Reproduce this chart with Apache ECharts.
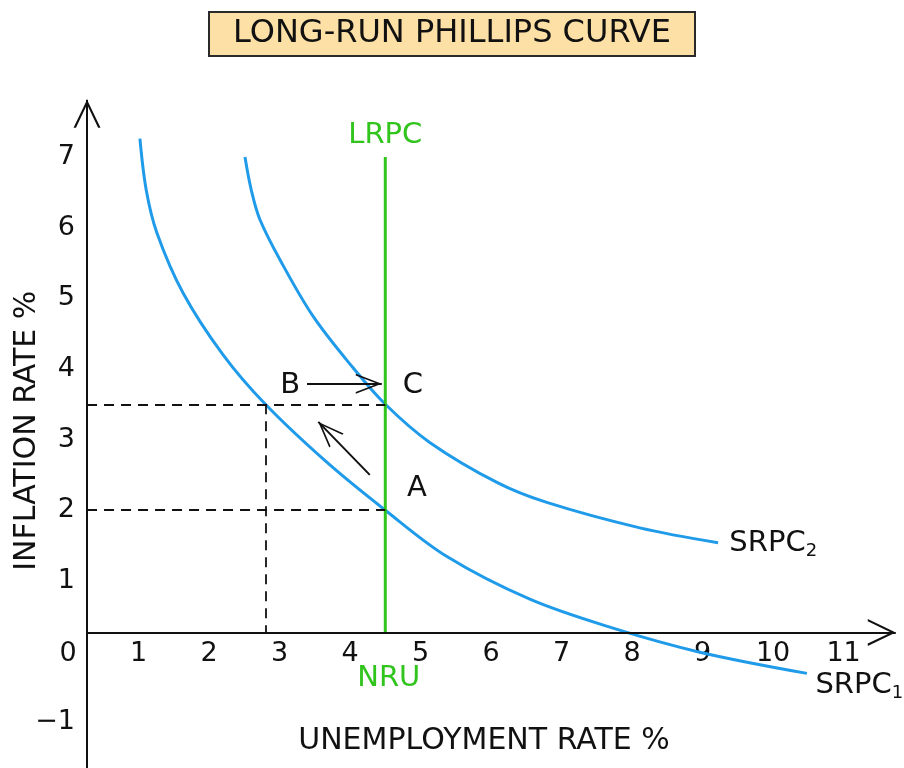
<!DOCTYPE html>
<html>
<head>
<meta charset="utf-8">
<script src="https://cdn.jsdelivr.net/npm/echarts@6/dist/echarts.min.js"></script>
<style>
html, body { margin: 0; padding: 0; background: #fff; }
#main { width: 904px; height: 768px; }
</style>
</head>
<body>
<div id="main"></div>
<script>
// tick labels
var xTicks = [0, 1, 2, 3, 4, 5, 6, 7, 8, 9, 10, 11];
var yTicks = [-1, 1, 2, 3, 4, 5, 6, 7];

// short-run phillips curves (unemployment %, inflation %)
var srpc1 = [[1.02, 7.26], [1.11, 6.53], [1.26, 5.93], [1.63, 5.08], [2.2, 4.2], [2.8, 3.5],
  [3.67, 2.68], [4.5, 2], [5.38, 1.34], [6.55, 0.74], [7.73, 0.33], [8.96, -0.01], [10.48, -0.31]];
var srpc2 = [[2.51, 7.0], [2.6, 6.53], [2.72, 6.12], [3.01, 5.54], [3.48, 4.74], [4.04, 4.02], [4.5, 3.5],
  [5.13, 2.96], [6.09, 2.39], [6.79, 2.11], [8.11, 1.75], [9.22, 1.54]];

// long-run curve and points
var nru = 4.5;
var lrpcTop = 7.0;
var pointA = [4.5, 2];
var pointB = [2.8, 3.5];
var pointC = [4.5, 3.5];
var axisAt = 0.27;       // where the hand drawn axes cross
var arrowBC = [[3.39, 3.79], [4.45, 3.79]];
var arrowAB = [[4.28, 2.5], [3.55, 3.25]];

var blue = '#1f9bea';
var green = '#30c41c';
var ink = '#111';
var font = 'DejaVu Sans';

var chevron = 'path://M0,100 L50,0 L100,100 L91,100 L50,17 L9,100 Z';

var yMin = -1.65, yMax = 7.9;
var gridTop = 93.5, gridH = 768 - gridTop;
// lift the x labels from the grid bottom up to inflation = 0
var xLabelShift = -gridH * (0 - yMin) / (yMax - yMin);

var myChart = echarts.init(document.getElementById('main'));

function seg(a, b) {
  return [{ coord: a }, { coord: b }];
}

var option = {
  animation: false,
  title: {
    text: 'LONG-RUN PHILLIPS CURVE',
    left: 'center',
    top: 12,
    backgroundColor: '#fde0a6',
    borderColor: '#2a2a2a',
    borderWidth: 2,
    padding: [6, 24, 6, 24],
    textStyle: { fontFamily: font, fontSize: 32, fontWeight: 'normal', color: ink }
  },
  grid: { left: 68, right: 4, top: gridTop, bottom: 0, outerBoundsMode: 'none', containLabel: false },
  xAxis: {
    type: 'value',
    min: 0,
    max: 11.8,
    offset: xLabelShift,
    name: 'UNEMPLOYMENT RATE %',
    nameLocation: 'middle',
    nameGap: 75,
    nameMoveOverlap: false,
    nameTextStyle: { fontFamily: font, fontSize: 30, color: ink },
    axisLine: { show: false, onZero: false },
    axisTick: { show: false },
    splitLine: { show: false },
    axisLabel: {
      customValues: xTicks,
      fontFamily: font, fontSize: 27, color: ink,
      verticalAlign: 'middle', margin: 3
    }
  },
  yAxis: {
    type: 'value',
    min: yMin,
    max: yMax,
    name: 'INFLATION RATE %',
    nameLocation: 'middle',
    nameGap: 26,
    nameMoveOverlap: false,
    nameTextStyle: { fontFamily: font, fontSize: 30, color: ink },
    axisLine: { show: false, onZero: false },
    axisTick: { show: false },
    splitLine: { show: false },
    axisLabel: {
      customValues: yTicks,
      fontFamily: font, fontSize: 27, color: ink,
      align: 'right', margin: -7,
      formatter: function (v) { return v < 0 ? '\u2212' + Math.abs(v) : v; }
    }
  },
  series: [
    {
      name: 'axes', type: 'line', data: [], silent: true,
      markLine: {
        silent: true,
        symbol: ['none', chevron],
        symbolSize: [27, 28],
        symbolOffset: [[0, 0], [0, '50%']],
        label: { show: false },
        lineStyle: { color: ink, width: 2, type: 'solid' },
        emphasis: { disabled: true },
        data: [
          seg([axisAt, yMin], [axisAt, 7.81]),
          seg([axisAt, axisAt], [11.74, axisAt])
        ]
      }
    },
    {
      name: 'guides', type: 'line', data: [], silent: true,
      markLine: {
        silent: true,
        symbol: ['none', 'none'],
        label: { show: false },
        lineStyle: { color: ink, width: 1.8, type: [10, 7] },
        emphasis: { disabled: true },
        data: [
          seg([axisAt, pointA[1]], pointA),
          seg([axisAt, pointB[1]], pointC),
          seg(pointB, [pointB[0], axisAt])
        ]
      }
    },
    {
      name: 'SRPC1', type: 'line', data: srpc1, smooth: 0.35, showSymbol: false, silent: true,
      lineStyle: { color: blue, width: 3 }
    },
    {
      name: 'SRPC2', type: 'line', data: srpc2, smooth: 0.35, showSymbol: false, silent: true,
      lineStyle: { color: blue, width: 3 }
    },
    {
      name: 'LRPC', type: 'line', data: [[nru, axisAt], [nru, lrpcTop]], showSymbol: false, silent: true,
      lineStyle: { color: green, width: 3 }, z: 3
    },
    {
      name: 'moves', type: 'line', data: [], silent: true,
      markLine: {
        silent: true,
        symbol: ['none', chevron],
        symbolSize: [20, 26],
        symbolOffset: [[0, 0], [0, '50%']],
        label: { show: false },
        lineStyle: { color: ink, width: 2, type: 'solid' },
        emphasis: { disabled: true },
        data: [
          seg(arrowBC[0], arrowBC[1]),
          seg(arrowAB[0], arrowAB[1])
        ]
      }
    },
    {
      name: 'notes', type: 'scatter', symbolSize: 0, silent: true,
      itemStyle: { opacity: 1 },
      label: {
        show: true, position: 'inside', fontFamily: font, fontSize: 29, color: ink,
        formatter: '{b}',
        rich: {
          s: { fontFamily: font, fontSize: 18, color: ink, padding: [16, 0, 0, 0] }
        }
      },
      data: [
        { name: 'A', value: [4.95, 2.31] },
        { name: 'B', value: [3.15, 3.76] },
        { name: 'C', value: [4.89, 3.76] },
        { name: 'LRPC', value: [4.5, 7.31], label: { color: green } },
        { name: 'NRU', value: [4.55, -0.38], label: { color: green } },
        { name: 'SRPC{s|2}', value: [9.38, 1.53], label: { position: 'right', distance: 0 } },
        { name: 'SRPC{s|1}', value: [10.6, -0.48], label: { position: 'right', distance: 0 } }
      ]
    }
  ]
};

myChart.setOption(option);
</script>
</body>
</html>
